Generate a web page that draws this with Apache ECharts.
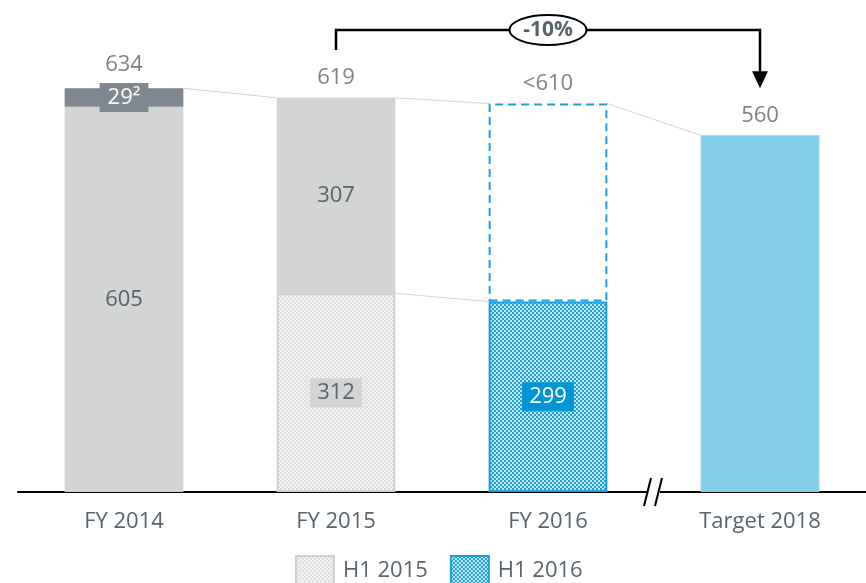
<!DOCTYPE html>
<html>
<head>
<meta charset="utf-8">
<script src="https://cdn.jsdelivr.net/npm/echarts@6/dist/echarts.min.js"></script>
<style>html,body{margin:0;padding:0;background:#fff}#c{width:866px;height:583px}</style>
</head>
<body>
<div id="c"></div>
<script>
// ---- data ----
const categories = ['FY 2014', 'FY 2015', 'FY 2016', 'Target 2018'];
const fy2014Base   = [605, null, null, null];
const fy2014OneOff = [29, null, null, null];
const h1_2015      = [null, 312, null, null];
const h2_2015      = [null, 307, null, null];
const h1_2016      = [null, null, 299, null];
const rest2016     = [null, null, 311, null];
const target2018   = [null, null, null, 560];
const totals       = [634, 619, 610, 560];
const totalLabels  = ['634', '619', '<610', '560'];
const changeLabel  = '-10%';
// connectors: [fromCategoryIndex, fromValue, toCategoryIndex, toValue]
const connectors = [[0, 634, 1, 619], [1, 619, 2, 610], [2, 610, 3, 560], [1, 312, 2, 299]];

const FONT = '"Open Sans", sans-serif';
const FS = 22;
const TXT = '#58646c';
const GRAY = '#d3d4d4';
const DARK = '#7f8890';
const BLUE = '#1ba0dc';

function checker(c1, c2, cell) {
  const cv = document.createElement('canvas');
  cv.width = cv.height = cell * 2;
  const ctx = cv.getContext('2d');
  ctx.fillStyle = c1; ctx.fillRect(0, 0, cell * 2, cell * 2);
  ctx.fillStyle = c2; ctx.fillRect(0, 0, cell, cell); ctx.fillRect(cell, cell, cell, cell);
  return cv;
}
const grayPattern = { image: checker('#f4f4f4', '#dcdcdc', 2), repeat: 'repeat' };
const bluePattern = { image: checker('#c6e9f8', '#1a9fdb', 2), repeat: 'repeat' };

const chart = echarts.init(document.getElementById('c'), null, { renderer: 'canvas' });
const BAR_W = 0.56;

function boxLabel(bg, color) {
  return { show: true, position: 'inside', color: color, fontFamily: FONT, fontSize: FS,
           backgroundColor: bg, padding: [4, 7, 3, 7] };
}

const option = {
  animation: false,
  textStyle: { fontFamily: FONT },
  grid: { left: 18, right: 0, top: 8, bottom: 91 },
  xAxis: {
    type: 'category', data: categories,
    axisLine: { lineStyle: { color: '#000', width: 2 } },
    axisTick: { show: false },
    axisLabel: { color: TXT, fontSize: FS, fontFamily: FONT, margin: 19 }
  },
  yAxis: { type: 'value', min: 0, max: 760, show: false, splitLine: { show: false } },
  legend: {
    data: ['H1 2015', 'H1 2016'], left: 295, top: 555, icon: 'rect', padding: 0,
    itemWidth: 38, itemHeight: 30, itemGap: 22,
    textStyle: { color: TXT, fontSize: FS, fontFamily: FONT, padding: [0, 0, 0, 4] }
  },
  series: [
    { name: 'FY base', type: 'bar', stack: 't', barWidth: '56%', data: fy2014Base,
      itemStyle: { color: GRAY },
      label: { show: true, position: 'inside', color: TXT, fontSize: FS, fontFamily: FONT } },
    { name: 'H1 2015', type: 'bar', stack: 't', data: h1_2015,
      itemStyle: { color: grayPattern, borderColor: '#d0d0d0', borderWidth: 2 },
      label: boxLabel('#d3d4d4', TXT) },
    { name: 'H1 2016', type: 'bar', stack: 't', data: h1_2016,
      itemStyle: { color: bluePattern, borderColor: BLUE, borderWidth: 2 },
      label: boxLabel('#0095d5', '#fff') },
    { name: 'Target', type: 'bar', stack: 't', data: target2018,
      itemStyle: { color: '#84cfea' } },
    { name: 'One-off', type: 'bar', stack: 't', data: fy2014OneOff,
      itemStyle: { color: DARK },
      label: Object.assign(boxLabel(DARK, '#fff'), { formatter: '{c}²', padding: [4, 8, 3, 8] }) },
    { name: 'H2 2015', type: 'bar', stack: 't', data: h2_2015,
      itemStyle: { color: GRAY },
      label: { show: true, position: 'inside', color: TXT, fontSize: FS, fontFamily: FONT } },
    { name: 'Rest 2016', type: 'bar', stack: 't', data: rest2016,
      itemStyle: { color: '#fff', borderColor: BLUE, borderWidth: 2, borderType: [8, 5] } },
    { name: 'Totals', type: 'scatter', symbolSize: 0, z: 5,
      data: totals.map((v, i) => ({ value: [i, v], label: { distance: i === 0 ? 13 : 9 } })),
      label: { show: true, position: 'top', color: TXT, fontSize: FS, fontFamily: FONT,
               formatter: p => totalLabels[p.dataIndex] } },
    { name: 'Connectors', type: 'custom', z: 1, silent: true,
      data: connectors,
      renderItem: function (params, api) {
        const half = api.size([1, 0])[0] * BAR_W / 2;
        const a = api.coord([api.value(0), api.value(1)]);
        const b = api.coord([api.value(2), api.value(3)]);
        return { type: 'line', shape: { x1: a[0] + half, y1: a[1], x2: b[0] - half, y2: b[1] },
                 style: { stroke: '#d6d6d6', lineWidth: 1 } };
      } },
    { name: 'Bracket', type: 'custom', z: 6, silent: true, clip: false,
      data: [[1, 3, 694, 725.5, 634]],
      renderItem: function (params, api) {
        const from = api.value(0), to = api.value(1);
        const start = api.coord([from, api.value(2)]);
        const topL = api.coord([from, api.value(3)]);
        const topR = api.coord([to, api.value(3)]);
        const tip = api.coord([to, api.value(4)]);
        const mid = api.coord([(from + to) / 2, api.value(3)]);
        return { type: 'group', children: [
          { type: 'polyline', shape: { points: [start, topL, topR, [tip[0], tip[1] - 14]] },
            style: { stroke: '#000', lineWidth: 2.5, fill: null } },
          { type: 'polygon', shape: { points: [[tip[0] - 8, tip[1] - 17], [tip[0] + 8, tip[1] - 17], tip] },
            style: { fill: '#000' } },
          { type: 'ellipse', shape: { cx: mid[0], cy: mid[1], rx: 38.5, ry: 15 },
            style: { fill: '#fff', stroke: '#000', lineWidth: 2 } },
          { type: 'text', x: mid[0], y: mid[1],
            style: { text: changeLabel, fill: TXT, font: 'bold 21px ' + FONT, align: 'center', verticalAlign: 'middle' } }
        ] };
      } },
    { name: 'Break', type: 'custom', z: 6, silent: true, clip: false,
      data: [[2, 3]],
      renderItem: function (params, api) {
        const a = api.coord([api.value(0), 0]);
        const b = api.coord([api.value(1), 0]);
        const x = (a[0] + b[0]) / 2, y = a[1];
        return { type: 'group', children: [
          { type: 'rect', shape: { x: x - 7, y: y - 3, width: 13, height: 6 }, style: { fill: '#fff' } },
          { type: 'line', shape: { x1: x - 10, y1: y + 14, x2: x - 3, y2: y - 14 }, style: { stroke: '#000', lineWidth: 2 } },
          { type: 'line', shape: { x1: x + 1, y1: y + 14, x2: x + 8, y2: y - 14 }, style: { stroke: '#000', lineWidth: 2 } }
        ] };
      } }
  ]
};
chart.setOption(option);
</script>
</body>
</html>
